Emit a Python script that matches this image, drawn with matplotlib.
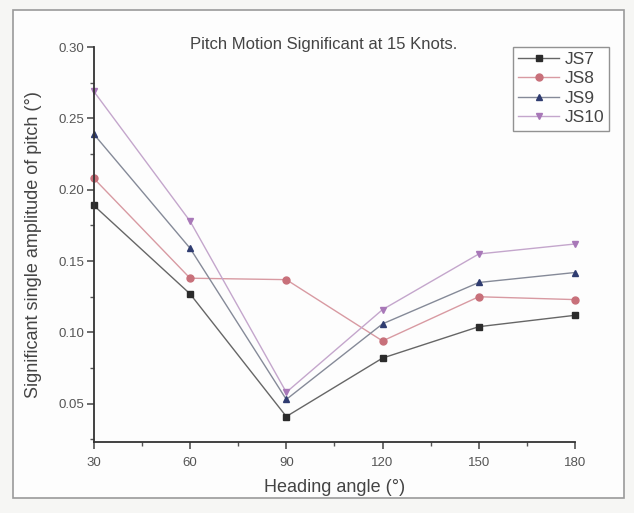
import matplotlib.pyplot as plt
from matplotlib.patches import Rectangle
from matplotlib.ticker import MultipleLocator, FormatStrFormatter

plt.rcParams["font.family"] = ["Liberation Sans", "DejaVu Sans"]

# heading angles (deg) and significant single amplitude of pitch (deg)
heading = [30, 60, 90, 120, 150, 180]
js7 = [0.189, 0.127, 0.041, 0.082, 0.104, 0.112]
js8 = [0.208, 0.138, 0.137, 0.094, 0.125, 0.123]
js9 = [0.239, 0.159, 0.053, 0.106, 0.135, 0.142]
js10 = [0.269, 0.178, 0.058, 0.116, 0.155, 0.162]
names = ["JS7", "JS8", "JS9", "JS10"]

series = [js7, js8, js9, js10]
markers = ["s", "o", "^", "v"]
mcolors = ["#2b2b2b", "#c8707a", "#2f3c70", "#a878b8"]
lcolors = ["#666666", "#d89aa2", "#858a98", "#c4a6cc"]

fig = plt.figure(figsize=(6.34, 5.13), dpi=100, facecolor="#f6f6f4")
# page frame behind the plot
fig.patches.append(Rectangle((0.02, 0.03), 0.965, 0.95, transform=fig.transFigure,
                             facecolor="#fdfdfd", edgecolor="#9a9a9a", lw=1.2,
                             zorder=-10))
ax = fig.add_axes([0.148, 0.138, 0.759, 0.770])
ax.set_facecolor("none")

for y, m, mc, lc, name in zip(series, markers, mcolors, lcolors, names):
    ax.plot(heading, y, color=lc, lw=1.0, marker=m, ms=5,
            markerfacecolor=mc, markeredgecolor=mc, label=name, clip_on=False)

ax.set_xlim(30, 180)
ax.set_ylim(0.023, 0.30)
ax.xaxis.set_major_locator(MultipleLocator(30))
ax.xaxis.set_minor_locator(MultipleLocator(15))
ax.yaxis.set_major_locator(MultipleLocator(0.05))
ax.yaxis.set_minor_locator(MultipleLocator(0.025))
ax.yaxis.set_major_formatter(FormatStrFormatter("%.2f"))

for side in ("top", "right"):
    ax.spines[side].set_visible(False)
for side in ("left", "bottom"):
    ax.spines[side].set_color("#333333")
    ax.spines[side].set_linewidth(1.3)
ax.tick_params(which="major", length=5, width=1.1, color="#444444",
               labelsize=9.5, labelcolor="#555555")
ax.tick_params(axis="x", which="major", pad=6)
ax.tick_params(axis="y", which="major", pad=2)
ax.tick_params(which="minor", length=3, width=1.0, color="#555555")

ax.set_xlabel("Heading angle (°)", fontsize=13, color="#444444", labelpad=7)
ax.set_ylabel("Significant single amplitude of pitch (°)", fontsize=13,
              color="#444444", labelpad=12)
fig.text(324 / 634, 1 - 45 / 513, "Pitch Motion Significant at 15 Knots.",
         fontsize=12, color="#444444", ha="center", va="center")

fig.legend(loc="upper right", bbox_to_anchor=(0.975, 0.926), fontsize=12.5,
           frameon=True, fancybox=False, edgecolor="#777777", handlelength=2.4,
           labelspacing=0.25, borderpad=0.3, handletextpad=0.3,
           labelcolor="#444444")

fig.savefig("out.png", dpi=100, facecolor=fig.get_facecolor())
